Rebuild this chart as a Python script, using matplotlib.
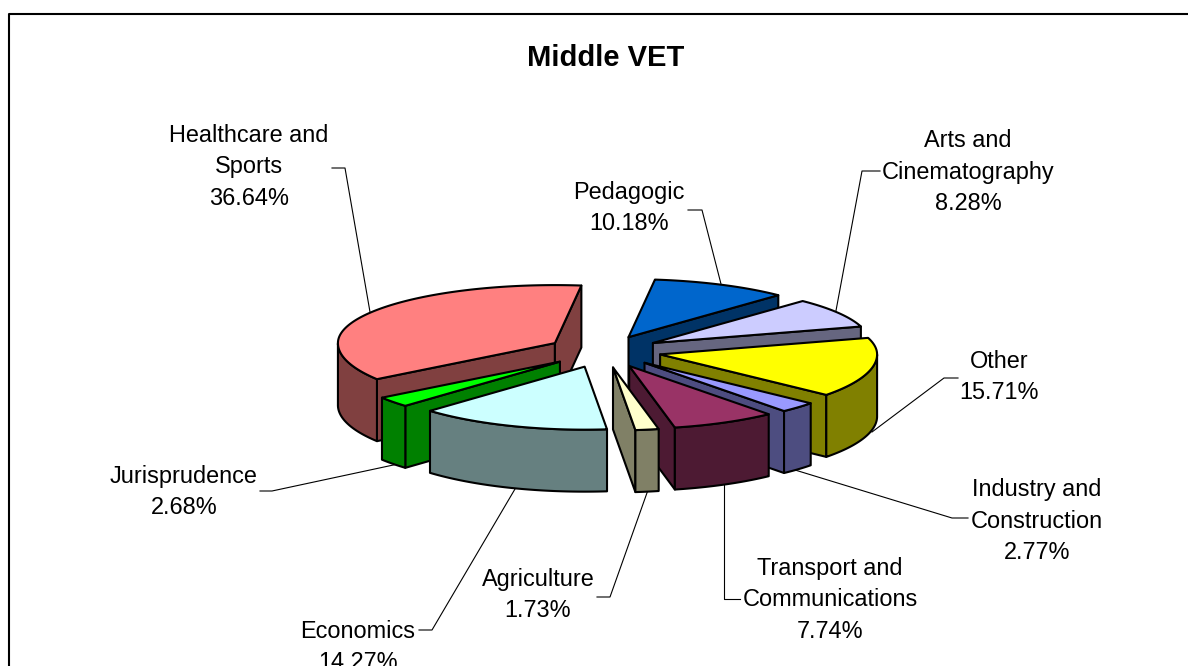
import numpy as np
import matplotlib
matplotlib.use("Agg")
import matplotlib.pyplot as plt
from matplotlib.patches import Polygon

plt.rcParams["font.family"] = ["Liberation Sans", "DejaVu Sans"]

# clockwise from the first slice
names = ["Pedagogic", "Arts and\nCinematography", "Other", "Industry and\nConstruction",
         "Transport and\nCommunications", "Agriculture", "Economics", "Jurisprudence",
         "Healthcare and\nSports"]
values = [10.18, 8.28, 15.71, 2.77, 7.74, 1.73, 14.27, 2.68, 36.64]
top_colors = ["#0066CC", "#CCCCFF", "#FFFF00", "#9999FF", "#993366",
              "#FFFFCC", "#CCFFFF", "#00FF00", "#FF8080"]
side_colors = ["#003366", "#666680", "#808000", "#4D4D80", "#4D1A33",
               "#808066", "#668080", "#008000", "#804040"]

# label centres and leader lines, in pixels
label_pos = [(629, 208), (968, 172), (999, 377), (1037, 521), (830, 600),
             (538, 595), (358, 647), (184, 492), (249, 167)]
leaders = [[(721, 284), (702, 210), (688, 210)],
           [(835, 316), (862, 171), (880, 171)],
           [(872, 432), (944, 378), (958, 378)],
           [(795, 470), (952, 518), (968, 518)],
           [(724, 484), (724, 599), (740, 599)],
           [(648, 490), (610, 597), (597, 597)],
           [(515, 489), (432, 630), (419, 630)],
           [(398, 464), (272, 491), (260, 491)],
           [(370, 312), (345, 168), (332, 168)]]

cx, cy = 604, 351
rx = 217
ry_back, ry_front = 58, 63  # front half looks a bit wider, perspective
depth = 62
explode = 0.264
start_angle = 7

fig = plt.figure(figsize=(11.88, 6.66), dpi=100)
ax = fig.add_axes([0, 0, 1, 1])
ax.set_xlim(0, 1188)
ax.set_ylim(666, 0)
ax.axis("off")


def rim(theta, ox, oy, scale=1.0):
    t = np.radians(theta)
    c = np.cos(t)
    return ox + scale * rx * np.sin(t), oy - scale * np.where(c > 0, ry_back, ry_front) * c


def face(xs, ys, color, z):
    ax.add_patch(Polygon(np.column_stack([xs, ys]), closed=True, facecolor=color,
                         edgecolor="black", lw=1.5, joinstyle="round", zorder=z))


def draw_slice(a0, a1, top, side, z):
    ox, oy = rim((a0 + a1) / 2, cx, cy, explode)

    # cut faces, only those turned to the viewer
    for a, show in ((a0, np.sin(np.radians(a0)) < 0), (a1, np.sin(np.radians(a1)) > 0)):
        if show:
            x, y = rim(a, ox, oy)
            face([ox, x, x, ox], [oy, y, y + depth, oy + depth], side, z)

    # round outer wall, front half only
    th = np.linspace(a0, a1, 200)
    th = th[np.cos(np.radians(th)) < 0]
    if len(th) > 1:
        x, y = rim(th, ox, oy)
        face(np.r_[x, x[::-1]], np.r_[y, y[::-1] + depth], side, z)

    th = np.linspace(a0, a1, 200)
    x, y = rim(th, ox, oy)
    face(np.r_[ox, x], np.r_[oy, y], top, z)


edges = start_angle + np.r_[0, np.cumsum(values)] * 3.6
for i in range(len(values)):
    a0, a1 = edges[i], edges[i + 1]
    # slices to the back get painted first
    z = 3 - np.cos(np.radians((a0 + a1) / 2))
    draw_slice(a0, a1, top_colors[i], side_colors[i], z)

for i in range(len(values)):
    xs, ys = zip(*leaders[i])
    ax.plot(xs, ys, color="black", lw=0.8, zorder=1)
    ax.text(label_pos[i][0], label_pos[i][1], "%s\n%.2f%%" % (names[i], values[i]),
            ha="center", va="center", fontsize=16.9, linespacing=1.49, color="black", zorder=6)

ax.text(606, 57.5, "Middle VET", ha="center", va="center", fontsize=21, fontweight="bold")

# chart border, cut off at right and bottom
ax.plot([8.5, 8.5, 1188], [666, 14, 14], color="black", lw=1.5, zorder=1)

fig.savefig("out.png", dpi=100)
